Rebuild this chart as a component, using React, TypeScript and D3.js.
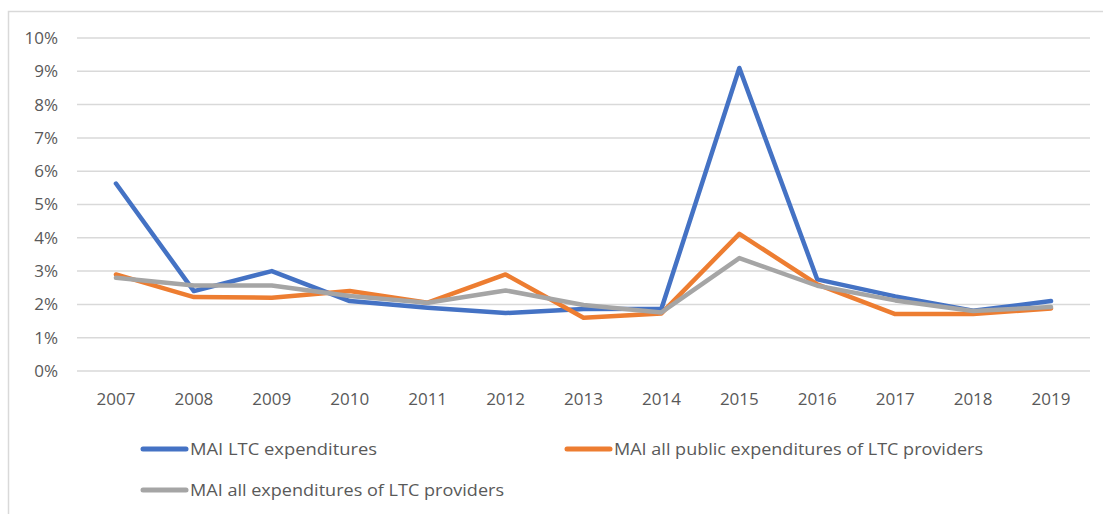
import React from "react";
import * as d3 from "d3";

// Chart values
const years = ["2007", "2008", "2009", "2010", "2011", "2012", "2013", "2014", "2015", "2016", "2017", "2018", "2019"];
const ltcExpenditures = [5.63, 2.4, 3.0, 2.1, 1.9, 1.74, 1.86, 1.87, 9.1, 2.75, 2.24, 1.81, 2.1];
const publicProviderExpenditures = [2.9, 2.22, 2.2, 2.4, 2.05, 2.9, 1.6, 1.73, 4.12, 2.6, 1.71, 1.71, 1.88];
const allProviderExpenditures = [2.8, 2.57, 2.57, 2.25, 2.05, 2.42, 1.98, 1.76, 3.39, 2.56, 2.12, 1.8, 1.92];
const yTicks = [0, 1, 2, 3, 4, 5, 6, 7, 8, 9, 10];

const seriesNames = [
  "MAI LTC expenditures",
  "MAI all public expenditures of LTC providers",
  "MAI all expenditures of LTC providers",
];
const seriesColors = ["#4472C4", "#ED7D31", "#A5A5A5"];

const W = 1103;
const H = 514;
const plot = { left: 77, right: 1090, top: 38, bottom: 371 };
const font = "'Open Sans', 'Liberation Sans', sans-serif";

export default function App() {
  const x = d3.scaleBand<string>().domain(years).range([plot.left, plot.right]);
  const y = d3.scaleLinear().domain([0, 10]).range([plot.bottom, plot.top]);
  const xc = (d: string) => (x(d) ?? 0) + x.bandwidth() / 2;

  const line = d3
    .line<number>()
    .x((_, i) => xc(years[i]))
    .y((v) => y(v));

  const series = [ltcExpenditures, publicProviderExpenditures, allProviderExpenditures];

  // legend placement (Excel style, two columns)
  const legend = [
    { x: 141, y: 449, w: 187 },
    { x: 565, y: 449, w: 369 },
    { x: 141, y: 490, w: 314 },
  ];

  return (
    <svg
      width={W}
      height={H}
      style={{ position: "absolute", left: 0, top: 0, background: "#fff" }}
    >
      {/* chart frame */}
      <path d={`M8.5,${H} V11.5 H${W}`} fill="none" stroke="#d9d9d9" strokeWidth={1.5} />

      {/* gridlines + y labels */}
      {yTicks.map((t) => (
        <g key={t}>
          <line x1={plot.left} x2={plot.right} y1={y(t)} y2={y(t)} stroke="#d9d9d9" strokeWidth={1.5} />
          <text
            x={58}
            y={y(t)}
            dy="0.35em"
            textAnchor="end"
            fontFamily={font}
            fontSize={17}
            fill="#595959"
          >
            {t + "%"}
          </text>
        </g>
      ))}

      {/* x labels */}
      {years.map((yr) => (
        <text
          key={yr}
          x={xc(yr)}
          y={405}
          textAnchor="middle"
          fontFamily={font}
          fontSize={17}
          fill="#595959"
        >
          {yr}
        </text>
      ))}

      {/* data lines */}
      {series.map((s, i) => (
        <path
          key={i}
          d={line(s) ?? ""}
          fill="none"
          stroke={seriesColors[i]}
          strokeWidth={4.5}
          strokeLinejoin="round"
          strokeLinecap="round"
        />
      ))}

      {/* legend */}
      {seriesNames.map((name, i) => (
        <g key={name}>
          <line
            x1={legend[i].x + 2}
            x2={legend[i].x + 45}
            y1={legend[i].y}
            y2={legend[i].y}
            stroke={seriesColors[i]}
            strokeWidth={5}
            strokeLinecap="round"
          />
          <text
            x={legend[i].x + 49}
            y={legend[i].y}
            dy="0.35em"
            fontFamily={font}
            fontSize={17}
            fill="#595959"
            textLength={legend[i].w}
            lengthAdjust="spacingAndGlyphs"
          >
            {name}
          </text>
        </g>
      ))}
    </svg>
  );
}
